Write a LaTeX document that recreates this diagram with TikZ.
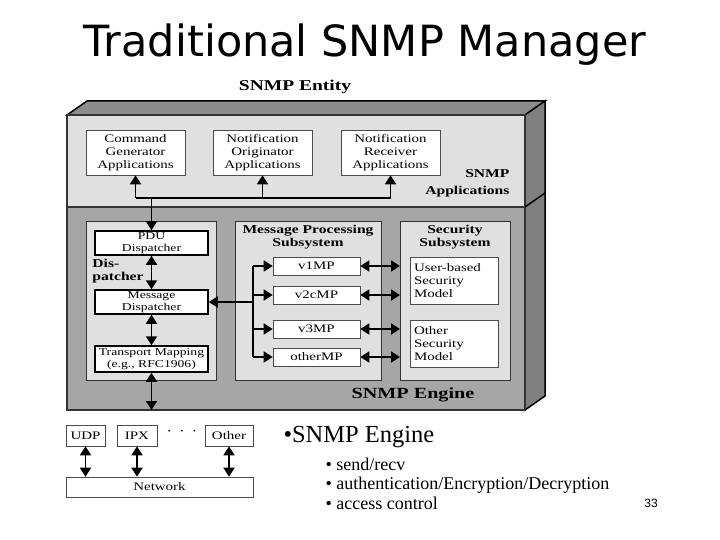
\documentclass[tikz,border=0pt]{standalone}
\usepackage{fontspec}
\setmainfont{Liberation Serif}
\newfontfamily\titlefont{DejaVu Sans}
\newfontfamily\numfont{Liberation Sans}
\newfontfamily\widefont[FakeStretch=1.3]{Liberation Serif}
\usetikzlibrary{arrows.meta,positioning}
\tikzset{>={Triangle[width=11pt,length=9pt]}}
\colorlet{appcol}{black!12}
\colorlet{engcol}{black!35}
\colorlet{topcol}{black!45}
\colorlet{sidecol}{black!50}
\tikzset{
  box/.style={draw=black!70,fill=white,inner sep=0pt,align=center,
              font=\widefont\fontsize{11.5}{13}\selectfont,line width=0.6pt},
  dbox/.style={box,draw=black,line width=1.5pt,font=\widefont\fontsize{10.5}{11.5}\selectfont},
  panel/.style={draw=black!80,fill=appcol,line width=1pt},
  link/.style={line width=1.8pt},
  lbl/.style={font=\widefont\bfseries\fontsize{12}{13.5}\selectfont,align=center}
}
\begin{document}
\begin{tikzpicture}[x=1pt,y=-1pt]
  \useasboundingbox (0,0) rectangle (720,540);

  % TITLE
  \node[font=\titlefont\fontsize{43}{43}\selectfont] (title) at (365,45) {Traditional SNMP Manager};
  \node[font=\widefont\bfseries\fontsize{15}{15}\selectfont] (entity) at (295,87) {SNMP Entity};

  % 3D HOUSING
  \fill[topcol,draw=black,line width=1.5pt] (67,115) -- (87,101) -- (545,101) -- (525,115) -- cycle;
  \fill[sidecol,draw=black,line width=1.5pt] (525,115) -- (545,101) -- (545,396) -- (525,410) -- cycle;
  \draw[panel,fill=appcol,line width=1.5pt] (67,115) rectangle (525,207);
  \draw[panel,fill=engcol,line width=1.5pt] (67,207) rectangle (525,410);
  \draw[line width=1.5pt] (525,207) -- (545,193);

  % APPLICATIONS
  \node[box,minimum width=99,minimum height=45] (cmdgen) at (135.5,152.5) {Command\\Generator\\Applications};
  \node[box,minimum width=99,minimum height=45] (notorig) at (262.5,152.5) {Notification\\Originator\\Applications};
  \node[box,minimum width=99,minimum height=45] (notrecv) at (390.5,152.5) {Notification\\Receiver\\Applications};
  \node[lbl,align=right,anchor=east,font=\widefont\bfseries\fontsize{12}{17}\selectfont] (applbl) at (513,183) {SNMP\\Applications};

  % ENGINE PANELS
  \draw[panel] (86,222) rectangle (216,380);
  \draw[panel] (235,222) rectangle (381,380);
  \draw[panel] (400,222) rectangle (510,380);
  \node[lbl] (mplbl) at (308,237) {Message Processing\\Subsystem};
  \node[lbl] (seclbl) at (455,237) {Security\\Subsystem};
  \node[lbl,align=left] (displbl) at (118,271) {Dis-\\patcher};
  \node[lbl,font=\widefont\bfseries\fontsize{15.5}{16}\selectfont] (englbl) at (413,395) {SNMP Engine};

  % DISPATCHER
  \node[dbox,minimum width=113,minimum height=24] (pdu) at (151.5,243) {PDU\\Dispatcher};
  \node[dbox,minimum width=113,minimum height=24] (msgdisp) at (151.5,302) {Message\\Dispatcher};
  \node[dbox,minimum width=113,minimum height=26] (transport) at (151.5,359) {Transport Mapping\\(e.g., RFC1906)};

  % MESSAGE PROCESSING MODELS
  \foreach \name/\txt/\y in {v1/v1MP/266,v2c/v2cMP/295,v3/v3MP/329,other/otherMP/357}{
    \node[box,minimum width=87,minimum height=18] (\name) at (316.5,\y) {\txt};
    \coordinate (\name sec) at (400,\y);
    \draw[link,<->] (\name) -- (\name sec);
  }
  \node[box,align=left,minimum width=88,minimum height=47,text width=80] (usm) at (454,280.5) {User-based\\Security\\Model};
  \node[box,align=left,minimum width=88,minimum height=47,text width=80] (othersm) at (454,343.5) {Other\\Security\\Model};

  % CONNECTIONS
  \coordinate (bus) at (253,302);
  \draw[link] (v1.west) ++(-20,0) coordinate (bustop) -- (other.west -| bustop);
  \foreach \name in {v1,v2c,v3,other}
    \draw[link,->] (\name.west -| bustop) -- (\name.west);
  \draw[link,<-] (msgdisp.east) -- (bus);
  \coordinate (appbus) at (135.5,198);
  \draw[link] (cmdgen.south |- appbus) -- (notrecv.south |- appbus);
  \foreach \name in {cmdgen,notorig,notrecv}
    \draw[link,->] (\name.south |- appbus) -- (\name.south);
  \draw[link,->] (pdu.north |- appbus) -- (pdu.north);
  \draw[link,<->] (pdu) -- (msgdisp);
  \draw[link,<->] (msgdisp) -- (transport);
  \coordinate (engout) at (151.5,410);
  \draw[link,<->] (transport) -- (engout);

  % TRANSPORTS
  \node[box,minimum width=39,minimum height=21] (udp) at (85.5,435.5) {UDP};
  \node[box,minimum width=40,minimum height=21] (ipx) at (137,435.5) {IPX};
  \node[box,minimum width=48,minimum height=21] (othert) at (229,435.5) {Other};
  \node[font=\bfseries\fontsize{16}{16}\selectfont] (dots) at (182,432) {$\cdot\ \cdot\ \cdot$};
  \node[box,minimum width=187,minimum height=20] (network) at (159.5,487) {Network};
  \foreach \name in {udp,ipx,othert}
    \draw[link,<->] (\name) -- (\name |- network.north);

  % NOTES
  \node[anchor=west,font=\fontsize{24.5}{24.5}\selectfont] (note) at (280,437) {•SNMP Engine};
  \node[anchor=west,align=left,font=\fontsize{18}{19.5}\selectfont] (subnotes) at (322,483.5)
    {• send/recv\\• authentication/Encryption/Decryption\\• access control};
  \node[font=\numfont\fontsize{12}{12}\selectfont] (page) at (651,503) {33};
\end{tikzpicture}
\end{document}
